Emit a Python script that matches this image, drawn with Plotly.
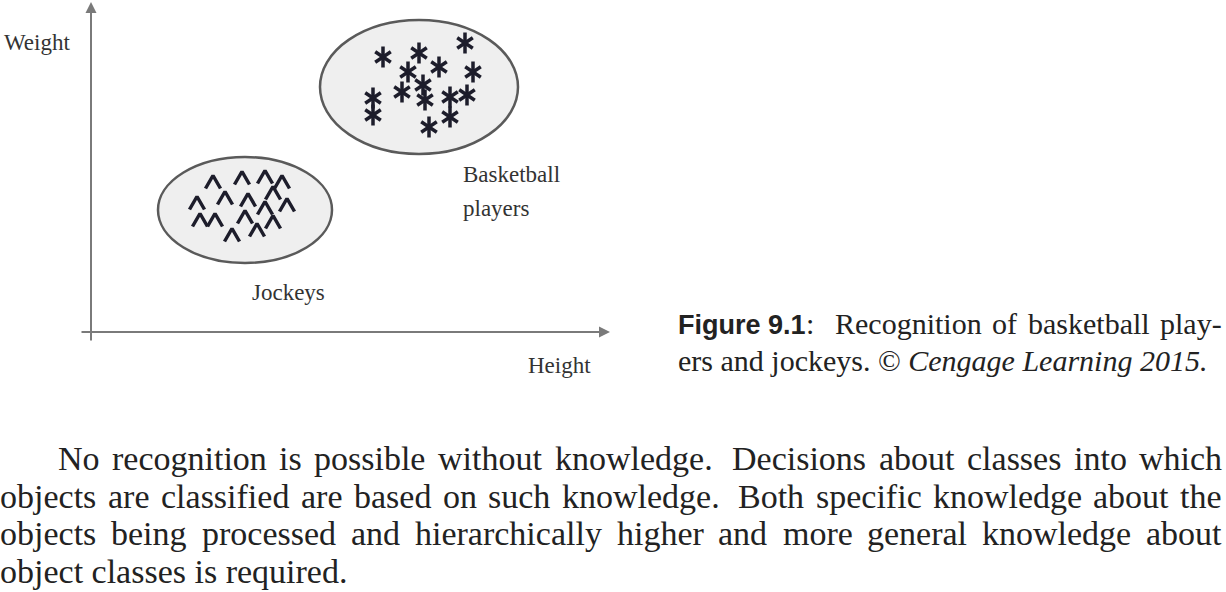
import plotly.graph_objects as go

# ---------------- data (Height / Weight, arbitrary units, origin at axes crossing) ----------------
basketball_height = [292, 328, 374, 317, 348, 382, 311, 332, 282, 334, 359, 376, 282, 359, 338]
basketball_weight = [275, 279, 289, 260, 265, 260, 240, 247, 234, 232, 235, 237, 217, 215, 205]

jockey_height = [122, 151, 174, 191, 106, 134, 157, 182, 174, 196, 109, 124, 154, 141, 166, 182]
jockey_weight = [150, 154, 155, 150, 129, 134, 132, 139, 124, 127, 112, 112, 115, 97, 102, 110]

cluster_names = ["Basketball players", "Jockeys"]
cluster_center_height = [328, 154]
cluster_center_weight = [245, 122]
cluster_radius_height = [99, 87]
cluster_radius_weight = [67, 53]

axis_x_label = "Height"
axis_y_label = "Weight"
axis_x_extent = [-11, 519]
axis_y_extent = [-10, 330]

caption_bold = "Figure 9.1"
caption_line1 = ["Recognition", "of", "basketball", "play-"]
caption_line2 = "ers and jockeys. © <i>Cengage Learning 2015.</i>"

body_lines = [
    "No recognition is possible without knowledge. Decisions about classes into which",
    "objects are classified are based on such knowledge. Both specific knowledge about the",
    "objects being processed and hierarchically higher and more general knowledge about",
    "object classes is required.",
]

# ---------------- layout helpers ----------------
W, H = 1226, 592
SERIF = "Liberation Serif"
SANS = "Liberation Sans"
TEXT_COLOR = "#222222"


def px(x):
    return x / W


def py(y):
    return 1 - y / H


TIMES = {
    " ": 250, ".": 250, ":": 278, "-": 333, "©": 760,
    "a": 444, "b": 500, "c": 444, "d": 500, "e": 444, "f": 333, "g": 500, "h": 500,
    "i": 278, "j": 278, "k": 500, "l": 278, "m": 778, "n": 500, "o": 500, "p": 500,
    "q": 500, "r": 333, "s": 389, "t": 278, "u": 500, "v": 500, "w": 722, "x": 500,
    "y": 500, "z": 444,
    "B": 667, "C": 667, "D": 722, "F": 556, "L": 611, "N": 722, "R": 667,
}
ARIAL_BOLD = {"F": 611, "i": 278, "g": 611, "u": 611, "r": 389, "e": 556, " ": 278,
              "9": 556, ".": 278, "1": 556}


def tw(word, size, table=TIMES):
    return sum(table.get(c, 500) for c in word) * size / 1000.0


def justify(words, left, right, size):
    widths = [tw(w, size) for w in words]
    weights = [1.6 if words[i].endswith(".") else 1.0 for i in range(len(words) - 1)]
    unit = (right - left - sum(widths)) / sum(weights)
    xs, x = [], left
    for i in range(len(words)):
        xs.append(x)
        if i < len(weights):
            x += widths[i] + unit * weights[i]
    return xs


def text_ann(text, x, baseline, size, family=SERIF, color=TEXT_COLOR, asc=0.3375):
    return dict(text=text, x=px(x), y=py(baseline - asc * size), xref="paper", yref="paper",
                xanchor="left", yanchor="middle", showarrow=False, borderpad=0, borderwidth=0,
                font=dict(family=family, size=size, color=color))


fig = go.Figure()

# cluster regions
for i, name in enumerate(cluster_names):
    fig.add_shape(type="circle", xref="x", yref="y", layer="below",
                  x0=cluster_center_height[i] - cluster_radius_height[i],
                  x1=cluster_center_height[i] + cluster_radius_height[i],
                  y0=cluster_center_weight[i] - cluster_radius_weight[i],
                  y1=cluster_center_weight[i] + cluster_radius_weight[i],
                  fillcolor="#efefef", line=dict(color="#5a5a5a", width=2.5))

MARK = "#1d1d2b"
# basketball players: six-armed asterisks (two overlaid Y symbols)
for sym in ["y-up-open", "y-down-open"]:
    fig.add_trace(go.Scatter(x=basketball_height, y=basketball_weight, mode="markers",
                             marker=dict(symbol=sym, size=13, color=MARK,
                                         line=dict(color=MARK, width=3.5)),
                             hoverinfo="skip", showlegend=False))

# jockeys: caret glyphs drawn as small wedge paths around each data point
CARET_HALF_W, CARET_HALF_H = 7.5, 6.5
cx, cy = [], []
for h, w in zip(jockey_height, jockey_weight):
    cx += [h - CARET_HALF_W, h, h + CARET_HALF_W, None]
    cy += [w - CARET_HALF_H, w + CARET_HALF_H, w - CARET_HALF_H, None]
fig.add_trace(go.Scatter(x=cx, y=cy, mode="lines", line=dict(color=MARK, width=3.5),
                         hoverinfo="skip", showlegend=False))

anns = []
# axes with arrows
anns.append(dict(x=axis_x_extent[1], y=0, ax=axis_x_extent[0], ay=0, xref="x", yref="y",
                 axref="x", ayref="y", text="", showarrow=True, arrowhead=2, arrowsize=1.1,
                 arrowwidth=2, arrowcolor="#7a7a7a", standoff=0, startstandoff=0))
anns.append(dict(x=0, y=axis_y_extent[1], ax=0, ay=axis_y_extent[0], xref="x", yref="y",
                 axref="x", ayref="y", text="", showarrow=True, arrowhead=2, arrowsize=1.1,
                 arrowwidth=2, arrowcolor="#7a7a7a", standoff=0, startstandoff=0))

# figure labels
LBL = 23
anns.append(text_ann(axis_y_label, 4, 50, LBL, color="#333333"))
anns.append(text_ann(axis_x_label, 528, 373, LBL, color="#333333"))
anns.append(text_ann("Basketball", 463, 182, LBL, color="#333333"))
anns.append(text_ann("players", 463, 216, LBL, color="#333333"))
anns.append(text_ann("Jockeys", 252, 300, LBL, color="#333333"))

# caption
CAP = 30
CAPB = 27
anns.append(text_ann("<b>" + caption_bold + "</b>", 678, 334, CAPB, family=SANS, asc=0.3465))
colon_x = 678 + tw(caption_bold, CAPB, ARIAL_BOLD)
anns.append(text_ann(":", colon_x, 334, CAP))
for w, x in zip(caption_line1, justify(caption_line1, 835, 1222, CAP)):
    anns.append(text_ann(w, x, 334, CAP))
anns.append(text_ann(caption_line2, 678, 371, CAP))

# body paragraph (justified)
BODY = 34
baselines = [470, 507.5, 545, 582.5]
lefts = [58, 0, 0, 0]
for k, line in enumerate(body_lines):
    words = line.split()
    if k < len(body_lines) - 1:
        xs = justify(words, lefts[k], 1222, BODY)
        for w, x in zip(words, xs):
            anns.append(text_ann(w, x, baselines[k], BODY))
    else:
        anns.append(text_ann(line, lefts[k], baselines[k], BODY))

fig.update_layout(
    width=W, height=H, margin=dict(l=0, r=0, t=0, b=0, pad=0),
    paper_bgcolor="white", plot_bgcolor="white",
    xaxis=dict(range=[-91, W - 91], visible=False, fixedrange=True, domain=[0, 1]),
    yaxis=dict(range=[332 - H, 332], visible=False, fixedrange=True, domain=[0, 1]),
    annotations=anns, showlegend=False,
)

fig.write_html("out.html", config={"displayModeBar": False})
